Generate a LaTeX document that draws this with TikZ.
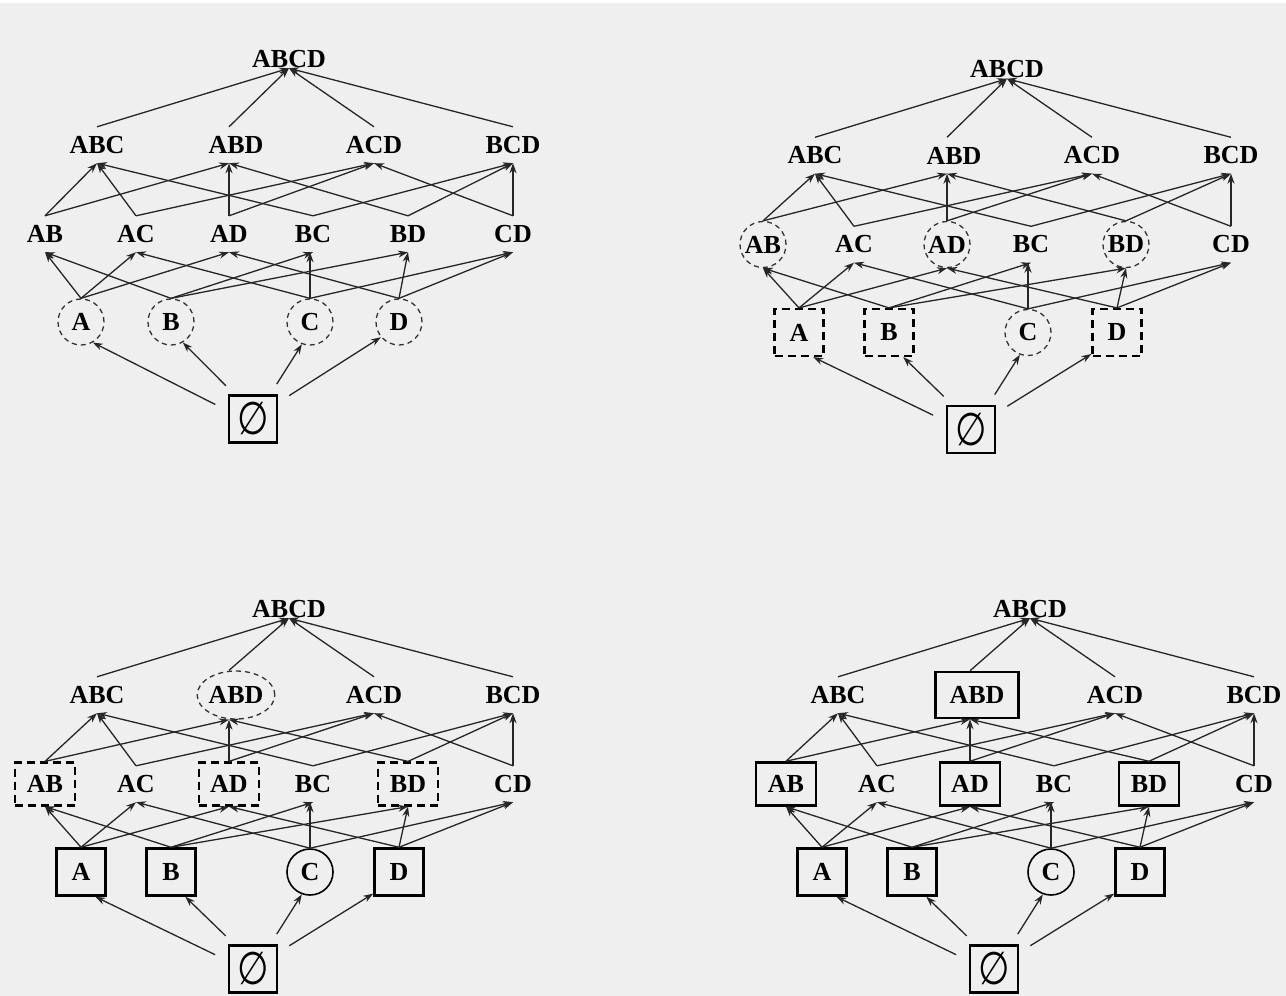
\documentclass[tikz,border=0pt]{standalone}
\usepackage{fontspec}
\setmainfont{Liberation Serif}
\newfontfamily\djv{DejaVu Sans}
\usepackage{graphicx}
\usetikzlibrary{arrows.meta,shapes.geometric}
\newcommand\lbl{\bfseries\fontsize{26}{28}\selectfont}
\newcommand\emp{\scalebox{0.95}[1.2]{\djv\fontsize{38}{38}\selectfont ∅}}
\tikzset{
  lab/.style={font=\lbl, inner sep=0pt, minimum height=36pt},
  top/.style={minimum height=18pt},
  conn/.style={-{Stealth[length=10pt,width=7pt]}, line width=1.3pt, black!85},
  dcirc/.style={draw, circle, dash pattern=on 5pt off 4pt, line width=1.3pt, black!80, text=black, minimum size=46pt},
  dell/.style={draw, ellipse, dash pattern=on 5pt off 4pt, line width=1.3pt, black!80, text=black, minimum width=73pt, minimum height=48pt},
  scirc/.style={draw, circle, line width=1.6pt, minimum size=46pt},
  dbox/.style={draw, rectangle, dash pattern=on 8pt off 5pt, line width=2.2pt, minimum width=49pt, minimum height=47pt},
  dpbox/.style={draw, rectangle, dash pattern=on 8pt off 5pt, line width=2.2pt, minimum width=60pt, minimum height=43pt},
  sbox/.style={draw, rectangle, line width=2.5pt, minimum width=49pt, minimum height=47pt},
  spbox/.style={draw, rectangle, line width=2.5pt, minimum width=60pt, minimum height=43pt},
  tbox/.style={draw, rectangle, line width=2.5pt, minimum width=83pt, minimum height=46pt},
  ebox/.style={draw, rectangle, line width=2.5pt, inner sep=0pt, minimum width=48pt, minimum height=47pt},
  sA/.style={}, sB/.style={}, sC/.style={}, sD/.style={},
  sAB/.style={}, sAD/.style={}, sBD/.style={}, sABD/.style={}
}
\newcommand\drawlattice[1]{%
  \node[lab,top] (#1ABCD) at (289,59) {ABCD};
  \node[lab] (#1ABC) at (97,145) {ABC};
  \node[lab,sABD] (#1ABD) at (236,145) {ABD};
  \node[lab] (#1ACD) at (374,145) {ACD};
  \node[lab] (#1BCD) at (513,145) {BCD};
  \node[lab,sAB] (#1AB) at (45,234) {AB};
  \node[lab] (#1AC) at (136,234) {AC};
  \node[lab,sAD] (#1AD) at (229,234) {AD};
  \node[lab] (#1BC) at (313,234) {BC};
  \node[lab,sBD] (#1BD) at (408,234) {BD};
  \node[lab] (#1CD) at (513,234) {CD};
  \node[lab,sA] (#1A) at (81,322) {A};
  \node[lab,sB] (#1B) at (171,322) {B};
  \node[lab,sC] (#1C) at (310,322) {C};
  \node[lab,sD] (#1D) at (399,322) {D};
  \node[ebox] (#1E) at (253,419) {\emp};
  % empty set to singletons
  \draw[conn,shorten <=14pt] (#1E.162) -- (#1A.-60);
  \draw[conn,shorten <=12pt] (#1E.127) -- (#1B.-60);
  \draw[conn,shorten <=12pt] (#1E.55) -- (#1C.-110);
  \draw[conn,shorten <=13pt] (#1E.33) -- (#1D.-140);
  % singletons to pairs
  \draw[conn] (#1A.north) -- (#1AB.south);
  \draw[conn] (#1A.north) -- (#1AC.south);
  \draw[conn] (#1A.north) -- (#1AD.south);
  \draw[conn] (#1B.north) -- (#1AB.south);
  \draw[conn] (#1B.north) -- (#1BC.south);
  \draw[conn] (#1B.north) -- (#1BD.south);
  \draw[conn] (#1C.north) -- (#1AC.south);
  \draw[conn] (#1C.north) -- (#1C.north |- #1BC.south);
  \draw[conn] (#1C.north) -- (#1CD.south);
  \draw[conn] (#1D.north) -- (#1AD.south);
  \draw[conn] (#1D.north) -- (#1BD.south);
  \draw[conn] (#1D.north) -- (#1CD.south);
  % pairs to triples
  \draw[conn] (#1AB.north) -- (#1ABC.south);
  \draw[conn] (#1AB.north) -- ([xshift=-7pt]#1ABD.south);
  \draw[conn] (#1AC.north) -- (#1ABC.south);
  \draw[conn] (#1AC.north) -- (#1ACD.south);
  \draw[conn] (#1AD.north) -- (#1AD.north |- #1ABD.south);
  \draw[conn] (#1AD.north) -- (#1ACD.south);
  \draw[conn] (#1BC.north) -- (#1ABC.south);
  \draw[conn] (#1BC.north) -- (#1BCD.south);
  \draw[conn] (#1BD.north) -- ([xshift=-7pt]#1ABD.south);
  \draw[conn] (#1BD.north) -- (#1BCD.south);
  \draw[conn] (#1CD.north) -- (#1ACD.south);
  \draw[conn] (#1CD.north) -- (#1BCD.south);
  % triples to top
  \draw[conn] (#1ABC.north) -- (#1ABCD.south);
  \draw[conn] ([xshift=-7pt]#1ABD.north) -- (#1ABCD.south);
  \draw[conn] (#1ACD.north) -- (#1ABCD.south);
  \draw[conn] (#1BCD.north) -- (#1ABCD.south);
}
\begin{document}
\begin{tikzpicture}[x=1pt,y=-1pt]
  \useasboundingbox (0,0) rectangle (1286,996);
  \fill[fill={rgb,255:red,239;green,239;blue,239}] (0,0) rectangle (1286,996);
  \fill[white] (0,0) rectangle (1286,3);
  \begin{scope}[sA/.style=dcirc, sB/.style=dcirc, sC/.style=dcirc, sD/.style=dcirc]
    \drawlattice{p}
  \end{scope}
  \begin{scope}[shift={(718,10.5)}, sA/.style=dbox, sB/.style=dbox, sC/.style=dcirc, sD/.style=dbox,
      sAB/.style=dcirc, sAD/.style=dcirc, sBD/.style=dcirc]
    \drawlattice{q}
  \end{scope}
  \begin{scope}[shift={(0,550)}, sA/.style=sbox, sB/.style=sbox, sC/.style=scirc, sD/.style=sbox,
      sAB/.style=dpbox, sAD/.style=dpbox, sBD/.style=dpbox, sABD/.style=dell]
    \drawlattice{r}
  \end{scope}
  \begin{scope}[shift={(741,550)}, sA/.style=sbox, sB/.style=sbox, sC/.style=scirc, sD/.style=sbox,
      sAB/.style=spbox, sAD/.style=spbox, sBD/.style=spbox, sABD/.style=tbox]
    \drawlattice{s}
  \end{scope}
\end{tikzpicture}
\end{document}
